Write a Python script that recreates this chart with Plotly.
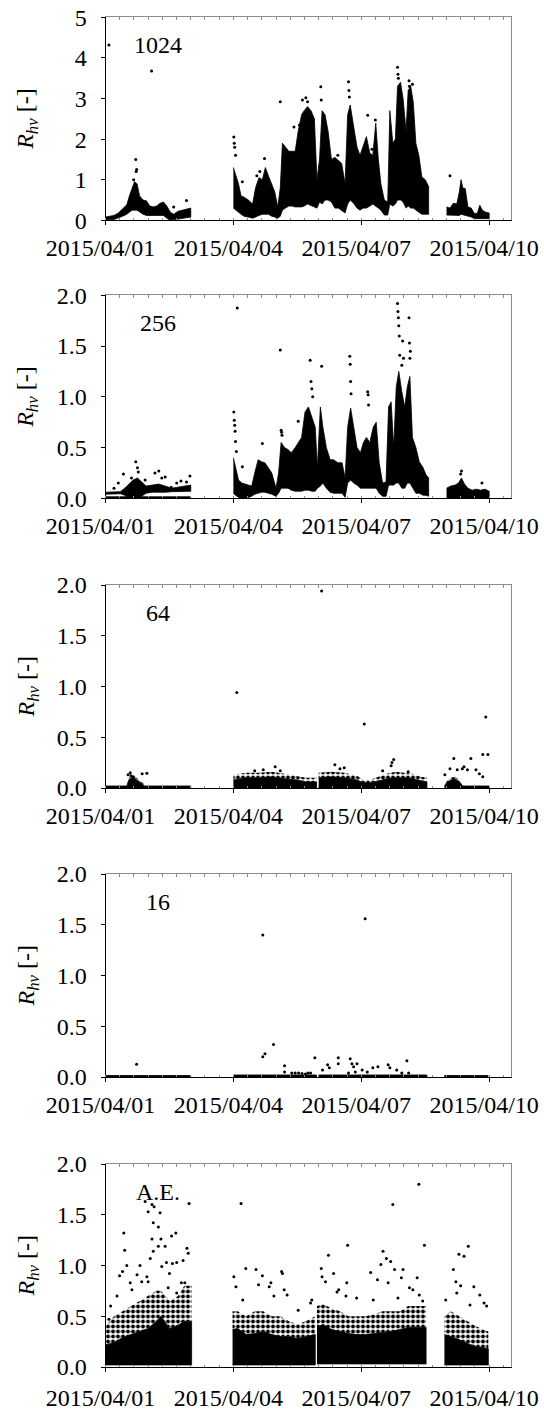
import pandas as pd
import plotly.graph_objects as go

# ---------------- data (days since 2015-04-01 00:00, values R_hv) ----------------
BASE = pd.Timestamp("2015-04-01")
X_TICK_DAYS = [0, 3, 6, 9]
X_TICK_TEXT = ["2015/04/01", "2015/04/04", "2015/04/07", "2015/04/10"]
X_MAX_DAYS = 9.5

PANEL_LABELS = ["1024", "256", "64", "16", "A.E."]
Y_MAX = [5, 2, 2, 2, 2]
Y_DTICK = [1, 0.5, 0.5, 0.5, 0.5]
Y_FMT = ["d", ".1f", ".1f", ".1f", ".1f"]

# Panel 1 (1024): dense band (low / high envelope), None = data gap
P1_T = [0.00, 0.10, 0.20, 0.30, 0.40, 0.50, 0.56, 0.62, 0.68, 0.74, 0.80, 0.88, 0.96, 1.04, 1.12, 1.20, 1.28, 1.36, 1.44, 1.52, 1.60, 1.70, 1.80, 1.90, 2.00, None,
        3.00, 3.06, 3.12, 3.18, 3.25, 3.35, 3.45, 3.52, 3.60, 3.68, 3.75, 3.82, 3.90, 3.97, 4.04, 4.10, 4.15, 4.22, 4.30, 4.38, 4.45, 4.52, 4.60, 4.66, 4.74, 4.82, 4.90, 4.96, 5.02, 5.08,
        5.15, 5.22, 5.30, 5.38, 5.46, 5.54, 5.62, 5.68, 5.74, 5.82, 5.90, 5.97, 6.04, 6.12, 6.20, 6.27, 6.34, 6.40, 6.46, 6.54, 6.62, 6.67, 6.74, 6.80, 6.85, 6.92, 6.98, 7.05, 7.10, 7.16,
        7.22, 7.28, 7.35, 7.42, 7.50, 7.58, None,
        8.00, 8.08, 8.16, 8.24, 8.30, 8.34, 8.38, 8.44, 8.50, 8.58, 8.65, 8.72, 8.78, 8.84, 8.92, 9.00]
P1_HI = [0.08, 0.10, 0.12, 0.18, 0.28, 0.38, 0.60, 0.80, 0.95, 0.90, 0.60, 0.50, 0.48, 0.35, 0.33, 0.35, 0.42, 0.45, 0.35, 0.20, 0.15, 0.22, 0.25, 0.28, 0.30, None,
         1.3, 1.1, 0.9, 0.6, 0.57, 0.5, 0.4, 0.8, 1.05, 1.0, 1.3, 1.1, 0.9, 0.7, 0.33, 0.8, 1.9, 1.8, 1.7, 1.7, 1.7, 2.2, 2.6, 2.7, 2.8, 2.7, 2.5, 1.0, 1.5, 2.7,
         2.6, 2.2, 1.5, 1.55, 1.48, 1.4, 0.9, 2.6, 2.84, 2.3, 1.8, 1.6, 1.8, 2.06, 1.65, 1.6, 2.39, 1.5, 0.9, 0.5, 0.45, 2.7, 1.9, 2.0, 3.3, 3.4, 3.0, 2.2, 3.2, 3.3,
         2.9, 1.9, 1.6, 1.07, 1.0, 0.83, None,
         0.33, 0.30, 0.42, 0.40, 0.70, 1.00, 0.80, 0.78, 0.33, 0.30, 0.17, 0.17, 0.37, 0.25, 0.20, 0.18]
P1_LO = [0.00, 0.02, 0.02, 0.05, 0.10, 0.15, 0.20, 0.25, 0.25, 0.25, 0.20, 0.15, 0.12, 0.12, 0.12, 0.12, 0.12, 0.12, 0.05, 0.00, 0.00, 0.02, 0.04, 0.06, 0.08, None,
         0.3, 0.25, 0.2, 0.15, 0.1, 0.08, 0.05, 0.08, 0.12, 0.15, 0.15, 0.15, 0.1, 0.08, 0.05, 0.1, 0.25, 0.3, 0.35, 0.35, 0.33, 0.33, 0.33, 0.35, 0.4, 0.35, 0.33, 0.3, 0.45, 0.4,
         0.5, 0.5, 0.45, 0.3, 0.3, 0.25, 0.18, 0.4, 0.5, 0.42, 0.3, 0.25, 0.3, 0.3, 0.35, 0.4, 0.35, 0.3, 0.25, 0.13, 0.13, 0.4, 0.35, 0.4, 0.5, 0.5, 0.45, 0.3, 0.35, 0.3,
         0.3, 0.25, 0.2, 0.15, 0.15, 0.15, None,
         0.13, 0.12, 0.13, 0.12, 0.12, 0.15, 0.13, 0.12, 0.10, 0.08, 0.04, 0.04, 0.04, 0.04, 0.04, 0.04]
P1_HALO = None
P1_PT_T = [0.08, 1.08, 0.71, 0.72, 0.73, 0.66, 1.90, 1.60, 3.01, 3.02, 3.03, 3.05, 3.21, 3.62, 3.73, 4.10, 4.42, 4.55, 4.62, 4.70,
           4.74, 5.05, 5.06, 5.70, 5.71, 5.72, 6.15, 6.33, 6.85, 6.86, 6.87, 7.12, 7.13, 7.20, 8.08, 5.45, 6.25, 3.55]
P1_PT_V = [4.32, 3.68, 1.50, 1.20, 1.25, 1.00, 0.49, 0.33, 2.05, 1.90, 1.80, 1.60, 0.95, 1.20, 1.52, 2.92, 2.30, 2.35, 2.96, 3.02,
           2.92, 3.29, 2.96, 3.41, 3.20, 3.04, 2.59, 2.47, 3.77, 3.60, 3.50, 3.44, 3.30, 3.35, 1.10, 1.60, 1.75, 1.10]

# Panel 2 (256)
P2_T = [0.0, 2.0, None,
        0.0, 0.35, 0.45, 0.55, 0.65, 0.75, 0.85, 0.95, 1.1, 1.25, 1.4, 1.55, 1.7, 1.85, 2.0, None,
        3.00, 3.05, 3.12, 3.20, 3.30, 3.43, 3.50, 3.58, 3.66, 3.74, 3.82, 3.90, 4.00, 4.06, 4.12, 4.20, 4.28, 4.36, 4.45, 4.52,
        4.60, 4.68, 4.76, 4.84, 4.92, 4.97, 5.04, 5.10, 5.18, 5.27, 5.35, 5.45, 5.55, 5.62, 5.68, 5.75, 5.82, 5.90, 5.98, 6.05,
        6.12, 6.20, 6.28, 6.35, 6.42, 6.50, 6.58, 6.64, 6.70, 6.76, 6.82, 6.88, 6.95, 7.02, 7.08, 7.14, 7.20, 7.28, 7.36, 7.45,
        7.52, 7.58, None,
        8.00, 8.10, 8.20, 8.28, 8.35, 8.42, 8.50, 8.60, 8.70, 8.80, 8.90, 9.00]
P2_HI = [0.015, 0.015, None,
         0.06, 0.065, 0.1, 0.14, 0.18, 0.2, 0.16, 0.12, 0.13, 0.14, 0.12, 0.1, 0.11, 0.12, 0.13, None,
         0.40, 0.30, 0.18, 0.15, 0.14, 0.12, 0.25, 0.38, 0.36, 0.35, 0.30, 0.25, 0.10, 0.25, 0.55, 0.50, 0.48, 0.45, 0.50, 0.55,
         0.60, 0.85, 0.90, 0.80, 0.70, 0.30, 0.90, 0.70, 0.50, 0.38, 0.38, 0.35, 0.35, 0.20, 0.70, 0.89, 0.70, 0.50, 0.45, 0.55,
         0.60, 0.55, 0.70, 0.75, 0.35, 0.15, 0.16, 0.90, 0.95, 0.50, 1.10, 1.25, 1.05, 0.90, 1.10, 1.20, 0.60, 0.50, 0.36, 0.30,
         0.23, 0.20, None,
         0.10, 0.12, 0.13, 0.15, 0.20, 0.14, 0.10, 0.08, 0.09, 0.08, 0.09, 0.07]
P2_LO = [0.0, 0.0, None,
         0.04, 0.045, 0.03, 0.0, 0.0, 0.0, 0.02, 0.05, 0.06, 0.06, 0.06, 0.065, 0.065, 0.07, 0.07, None,
         0.05, 0.03, 0.01, 0.00, 0.00, 0.02, 0.04, 0.05, 0.06, 0.06, 0.05, 0.04, 0.02, 0.05, 0.10, 0.10, 0.10, 0.08, 0.07, 0.07,
         0.07, 0.08, 0.08, 0.07, 0.07, 0.10, 0.12, 0.15, 0.10, 0.06, 0.05, 0.05, 0.05, 0.01, 0.15, 0.18, 0.15, 0.13, 0.10, 0.10,
         0.10, 0.10, 0.10, 0.10, 0.05, 0.02, 0.02, 0.13, 0.13, 0.13, 0.15, 0.15, 0.10, 0.10, 0.15, 0.15, 0.10, 0.05, 0.05, 0.03,
         0.03, 0.02, None,
         0.0, 0.0, 0.0, 0.0, 0.0, 0.0, 0.0, 0.0, 0.0, 0.0, 0.0, 0.0]
P2_HALO = None
P2_PT_T = [0.20, 0.42, 0.30, 0.61, 0.71, 0.75, 0.77, 0.93, 1.16, 1.25, 1.32, 1.40, 1.54, 1.67, 1.77, 1.90, 1.98, 3.01, 3.02, 3.03,
           3.04, 3.05, 3.07, 3.09, 3.21, 3.68, 4.10, 4.12, 4.13, 4.14, 4.52, 4.80, 4.82, 4.84, 4.86, 5.07, 5.73, 5.74, 5.75, 5.76,
           6.15, 6.16, 6.17, 6.85, 6.86, 6.87, 6.88, 6.89, 6.90, 6.95, 6.97, 6.99, 7.12, 7.13, 7.14, 7.15, 7.40, 8.35, 8.33, 8.83]
P2_PT_V = [0.10, 0.24, 0.15, 0.20, 0.36, 0.30, 0.26, 0.18, 0.25, 0.27, 0.20, 0.21, 0.11, 0.15, 0.17, 0.16, 0.22, 0.85, 0.77, 0.72,
           0.66, 0.56, 0.46, 1.875, 0.31, 0.54, 1.46, 0.67, 0.65, 0.62, 0.76, 1.36, 1.15, 1.08, 1.00, 1.30, 1.40, 1.32, 1.15, 1.03,
           1.05, 1.02, 0.92, 1.92, 1.84, 1.78, 1.70, 1.60, 1.41, 1.31, 1.55, 1.38, 1.78, 1.53, 1.38, 1.45, 0.31, 0.27, 0.24, 0.15]

# Panel 3 (64)
P3_T = [0.0, 0.50, 0.55, 0.62, 0.70, 0.80, 0.88, 0.92, 2.0, None,
        3.0, 3.3, 3.6, 3.9, 4.2, 4.5, 4.7, 4.95, None,
        5.0, 5.3, 5.6, 5.9, 6.05, 6.2, 6.4, 6.6, 6.8, 7.0, 7.2, 7.4, 7.54, None,
        7.95, 8.0, 8.1, 8.2, 8.3, 8.38, 9.0]
P3_HI = [0.02, 0.02, 0.08, 0.10, 0.09, 0.06, 0.04, 0.02, 0.02, None,
         0.08, 0.10, 0.10, 0.11, 0.09, 0.08, 0.06, 0.06, None,
         0.10, 0.11, 0.10, 0.08, 0.05, 0.05, 0.07, 0.09, 0.10, 0.10, 0.09, 0.07, 0.06, None,
         0.02, 0.05, 0.08, 0.09, 0.06, 0.02, 0.02]
P3_LO = [0.0, 0.0, 0.0, 0.0, 0.0, 0.0, 0.0, 0.0, 0.0, None,
         0.0, 0.0, 0.0, 0.0, 0.0, 0.0, 0.0, 0.0, None,
         0.0, 0.0, 0.0, 0.0, 0.0, 0.0, 0.0, 0.0, 0.0, 0.0, 0.0, 0.0, 0.0, None,
         0.0, 0.0, 0.0, 0.0, 0.0, 0.0, 0.0]
P3_HALO = [0.02, 0.02, 0.10, 0.12, 0.11, 0.08, 0.05, 0.02, 0.02, None,
           0.13, 0.15, 0.15, 0.16, 0.14, 0.12, 0.10, 0.10, None,
           0.15, 0.16, 0.15, 0.12, 0.08, 0.08, 0.11, 0.14, 0.16, 0.15, 0.14, 0.11, 0.10, None,
           0.02, 0.07, 0.10, 0.11, 0.08, 0.02, 0.02]
P3_PT_T = [0.53, 0.58, 0.60, 0.65, 0.86, 0.97, 3.08, 3.50, 3.70, 3.98, 4.10, 5.07, 5.38, 5.50, 5.60, 6.07, 6.50, 6.70, 6.72, 6.76,
           7.10, 7.96, 8.08, 8.17, 8.25, 8.37, 8.41, 8.49, 8.57, 8.69, 8.77, 8.85, 8.85, 8.92, 8.97]
P3_PT_V = [0.13, 0.15, 0.12, 0.11, 0.14, 0.145, 0.94, 0.17, 0.18, 0.21, 0.17, 1.94, 0.23, 0.19, 0.20, 0.63, 0.17, 0.22, 0.25, 0.28,
           0.16, 0.13, 0.19, 0.29, 0.18, 0.19, 0.21, 0.18, 0.29, 0.18, 0.14, 0.11, 0.33, 0.70, 0.33]

# Panel 4 (16)
P4_T = [0.0, 2.0, None, 3.0, 4.95, None, 5.0, 7.54, None, 7.95, 8.97]
P4_HI = [0.015, 0.015, None, 0.02, 0.02, None, 0.02, 0.02, None, 0.015, 0.015]
P4_LO = [0.0, 0.0, None, 0.0, 0.0, None, 0.0, 0.0, None, 0.0, 0.0]
P4_HALO = None
P4_PT_T = [0.73, 3.69, 3.69, 3.74, 3.94, 4.20, 4.20, 4.37, 4.53, 4.69, 4.81, 4.91, 5.09, 5.21, 5.25, 5.46, 5.46, 5.70, 5.74, 5.78,
           5.82, 5.86, 5.90, 6.02, 6.09, 6.14, 6.27, 6.39, 6.63, 6.67, 6.83, 6.95, 7.07, 7.11, 4.45, 4.61, 4.75]
P4_PT_V = [0.125, 1.40, 0.20, 0.23, 0.32, 0.11, 0.05, 0.04, 0.04, 0.03, 0.04, 0.19, 0.07, 0.12, 0.09, 0.19, 0.13, 0.04, 0.18, 0.13,
           0.10, 0.05, 0.13, 0.07, 1.56, 0.05, 0.09, 0.10, 0.12, 0.09, 0.07, 0.04, 0.16, 0.04, 0.04, 0.035, 0.04]

# Panel 5 (A.E.)
P5_T = [0.0, 0.2, 0.4, 0.6, 0.8, 1.0, 1.2, 1.3, 1.5, 1.7, 1.85, 2.02, None,
        2.98, 3.1, 3.3, 3.5, 3.7, 3.9, 4.1, 4.3, 4.5, 4.7, 4.92, None,
        4.96, 5.1, 5.3, 5.5, 5.7, 5.9, 6.1, 6.3, 6.5, 6.7, 6.9, 7.1, 7.3, 7.52, None,
        7.95, 8.1, 8.3, 8.5, 8.7, 8.98]
P5_HI = [0.22, 0.24, 0.29, 0.32, 0.35, 0.38, 0.45, 0.50, 0.38, 0.41, 0.45, 0.45, None,
         0.37, 0.38, 0.32, 0.33, 0.35, 0.32, 0.30, 0.30, 0.28, 0.30, 0.32, None,
         0.39, 0.42, 0.37, 0.35, 0.33, 0.32, 0.32, 0.33, 0.34, 0.35, 0.37, 0.39, 0.39, 0.39, None,
         0.32, 0.30, 0.27, 0.23, 0.20, 0.18]
P5_LO = [0.02, 0.02, 0.02, 0.02, 0.02, 0.02, 0.02, 0.02, 0.02, 0.02, 0.02, 0.02, None,
         0.02, 0.02, 0.02, 0.02, 0.02, 0.02, 0.02, 0.02, 0.02, 0.02, 0.02, None,
         0.03, 0.03, 0.03, 0.03, 0.03, 0.03, 0.03, 0.03, 0.03, 0.03, 0.03, 0.03, 0.03, 0.03, None,
         0.02, 0.02, 0.02, 0.02, 0.02, 0.02]
P5_HALO = [0.40, 0.50, 0.55, 0.60, 0.65, 0.70, 0.75, 0.75, 0.65, 0.70, 0.80, 0.80, None,
           0.55, 0.55, 0.50, 0.55, 0.55, 0.50, 0.50, 0.45, 0.42, 0.45, 0.50, None,
           0.60, 0.62, 0.58, 0.55, 0.50, 0.50, 0.50, 0.52, 0.55, 0.55, 0.55, 0.60, 0.60, 0.60, None,
           0.50, 0.55, 0.50, 0.45, 0.40, 0.35]
P5_PT_T = [0.43, 0.45, 0.50, 0.40, 0.33, 0.62, 0.81, 0.93, 1.00, 1.09, 1.14, 1.28, 1.24, 1.12, 1.09, 1.30, 1.12, 1.24, 1.40, 1.55,
           1.65, 1.05, 1.00, 1.32, 1.43, 1.50, 1.57, 1.67, 1.82, 1.91, 1.94, 1.96, 0.74, 0.58, 0.85, 0.97, 1.47, 1.78, 1.67, 1.86,
           0.27, 0.12, 0.08,
           3.18, 3.29, 3.01, 3.06, 3.53, 3.68, 3.88, 4.13, 4.15, 3.84, 3.59, 4.26, 4.52, 4.81, 4.84, 3.22, 3.95, 4.19,
           5.06, 5.23, 5.08, 5.16, 5.35, 5.43, 5.47, 5.66, 5.68, 5.64, 5.89, 6.22, 6.38, 6.46, 6.51, 6.59, 6.69, 6.74, 6.78, 6.94,
           6.98, 7.13, 7.31, 7.35, 7.48, 6.28, 6.63, 6.86, 7.21, 7.36, 7.44,
           8.16, 8.22, 8.29, 8.41, 8.51, 8.24, 8.33, 8.64, 8.78, 8.55, 8.88, 8.94, 7.98]
P5_PT_V = [1.32, 1.15, 1.00, 0.94, 0.90, 0.76, 1.00, 1.63, 1.53, 1.60, 1.58, 1.52, 1.38, 1.42, 1.26, 1.26, 1.14, 1.19, 1.19, 1.29,
           1.32, 1.07, 0.84, 0.99, 1.03, 0.92, 1.02, 1.03, 1.05, 1.17, 1.12, 1.61, 0.91, 0.83, 0.84, 0.89, 0.78, 0.83, 0.73, 0.83,
           0.70, 0.60, 0.47,
           1.61, 0.97, 0.89, 0.79, 0.96, 0.90, 0.83, 0.94, 0.92, 0.79, 0.81, 0.71, 0.56, 0.63, 0.66, 0.66, 0.70, 0.76,
           0.97, 1.10, 0.89, 0.84, 0.92, 0.74, 0.76, 0.83, 1.20, 0.70, 0.68, 0.93, 0.86, 1.01, 1.14, 1.07, 1.04, 1.60, 0.96, 0.88,
           0.96, 0.78, 0.88, 1.80, 1.20, 0.66, 0.83, 0.68, 0.76, 0.71, 0.65,
           0.96, 0.84, 1.11, 1.09, 1.19, 0.73, 0.80, 0.79, 0.71, 0.61, 0.63, 0.60, 0.66]

PANELS = [
    (P1_T, P1_LO, P1_HI, P1_HALO, P1_PT_T, P1_PT_V),
    (P2_T, P2_LO, P2_HI, P2_HALO, P2_PT_T, P2_PT_V),
    (P3_T, P3_LO, P3_HI, P3_HALO, P3_PT_T, P3_PT_V),
    (P4_T, P4_LO, P4_HI, P4_HALO, P4_PT_T, P4_PT_V),
    (P5_T, P5_LO, P5_HI, P5_HALO, P5_PT_T, P5_PT_V),
]

# ---------------- helpers ----------------
def to_time(d):
    if d is None:
        return None
    return (BASE + pd.Timedelta(days=d)).strftime("%Y-%m-%d %H:%M:%S")


def segments(t, a, b):
    segs, cur = [], []
    for ti, ai, bi in zip(t, a, b):
        if ti is None:
            if cur:
                segs.append(cur)
            cur = []
        else:
            cur.append((ti, ai, bi))
    if cur:
        segs.append(cur)
    return segs


def polygon(t, lower, upper):
    xs, ys = [], []
    for seg in segments(t, lower, upper):
        ts = [s[0] for s in seg]
        lo = [s[1] for s in seg]
        hi = [s[2] for s in seg]
        xs += [to_time(v) for v in ts + ts[::-1]] + [None]
        ys += hi + lo[::-1] + [None]
    return xs, ys


# ---------------- figure ----------------
W, H = 544, 1412
X0, X1 = 105.5, 510.5
TOPS = [17.3, 295.3, 585.0, 874.0, 1164.0]
PH = 203.0
X_LABEL_STANDOFF = [2, 2, 2, 2, 5]
FONT = "Liberation Serif"
FS = 24
GRAY = "#8c8c8c"

fig = go.Figure()
layout = dict(
    template="none",
    width=W, height=H, margin=dict(l=0, r=0, t=0, b=0, pad=0),
    paper_bgcolor="white", plot_bgcolor="white", showlegend=False,
    font=dict(family=FONT, size=FS, color="black"),
    annotations=[],
)

x_range = [to_time(0), to_time(X_MAX_DAYS)]
for i, (T, LO, HI, HALO, PT, PV) in enumerate(PANELS):
    n = i + 1
    xa, ya = f"x{n}", f"y{n}"
    xo, yo = f"x{n + 5}", f"y{n + 5}"
    if HALO is not None:
        hx, hy = polygon(T, HI, HALO)
        fig.add_trace(go.Scatter(x=hx, y=hy, xaxis=xa, yaxis=ya, mode="lines", fill="toself",
                                 fillcolor="rgba(0,0,0,0)", line=dict(width=0),
                                 fillpattern=dict(shape=".", fgcolor="black", bgcolor="white",
                                                  size=5, solidity=0.5),
                                 hoverinfo="skip"))
    px_, py_ = polygon(T, LO, HI)
    fig.add_trace(go.Scatter(x=px_, y=py_, xaxis=xa, yaxis=ya, mode="lines", fill="toself",
                             fillcolor="black", line=dict(color="black", width=0.8), hoverinfo="skip"))
    fig.add_trace(go.Scatter(x=[to_time(v) for v in PT], y=PV, xaxis=xa, yaxis=ya, mode="markers",
                             marker=dict(color="black", size=3, line=dict(width=0)), hoverinfo="skip"))
    # dummy traces for the grey top / right frame axes
    fig.add_trace(go.Scatter(x=[to_time(0)], y=[None], xaxis=xo, yaxis=ya, mode="markers", hoverinfo="skip"))
    fig.add_trace(go.Scatter(x=[to_time(0)], y=[None], xaxis=xa, yaxis=yo, mode="markers", hoverinfo="skip"))

    top = TOPS[i]
    ydom = [1 - (top + PH) / H, 1 - top / H]
    xdom = [X0 / W, X1 / W]
    key = "" if n == 1 else str(n)
    layout[f"xaxis{key}"] = dict(
        domain=xdom, anchor=ya, type="date", range=x_range, automargin=False,
        tickvals=[to_time(d) for d in X_TICK_DAYS], ticktext=X_TICK_TEXT,
        ticks="outside", ticklen=4, tickwidth=1, tickcolor="black",
        showline=True, linecolor="black", linewidth=1, showgrid=False, zeroline=False,
        tickfont=dict(family=FONT, size=FS, color="black"), ticklabelshift=-5,
        ticklabelstandoff=X_LABEL_STANDOFF[i],
        minor=dict(dtick=8 * 3600 * 1000, tick0=to_time(0), ticks="inside", ticklen=2,
                   tickcolor=GRAY, showgrid=False),
    )
    layout[f"yaxis{key}"] = dict(
        domain=ydom, anchor=xa, range=[0, Y_MAX[i]], dtick=Y_DTICK[i], tick0=0, tickformat=Y_FMT[i],
        automargin=False,
        ticks="outside", ticklen=4, tickwidth=1, tickcolor="black",
        showline=True, linecolor="black", linewidth=1, showgrid=False, zeroline=False,
        tickfont=dict(family=FONT, size=FS, color="black"), ticklabelstandoff=9,
    )
    layout[f"xaxis{n + 5}"] = dict(
        overlaying=xa, anchor=ya, side="top", type="date", range=x_range, automargin=False,
        dtick=8 * 3600 * 1000, tick0=to_time(0), ticks="inside", ticklen=3, tickcolor=GRAY,
        showticklabels=False, showline=True, linecolor=GRAY, linewidth=1, showgrid=False, zeroline=False,
    )
    layout[f"yaxis{n + 5}"] = dict(
        overlaying=ya, anchor=xa, side="right", range=[0, Y_MAX[i]], automargin=False,
        ticks="", showticklabels=False, showline=True, linecolor=GRAY, linewidth=1,
        showgrid=False, zeroline=False,
    )
    layout["annotations"].append(dict(
        text=PANEL_LABELS[i], xref="paper", yref="paper", x=158 / W, y=1 - (top + 28) / H,
        xanchor="center", yanchor="middle", showarrow=False, font=dict(family=FONT, size=FS, color="black"),
    ))
    layout["annotations"].append(dict(
        text="<i>R</i><sub><i>hv</i></sub> [-]", xref="paper", yref="paper", x=27 / W, y=1 - (top + PH / 2) / H,
        xanchor="center", yanchor="middle", textangle=-90, showarrow=False,
        font=dict(family=FONT, size=FS, color="black"),
    ))

fig.update_layout(**layout)
fig.write_html(
    "out.html",
    config={"displayModeBar": False},
    post_script="document.body.style.margin='0';document.body.style.overflow='hidden';",
)
